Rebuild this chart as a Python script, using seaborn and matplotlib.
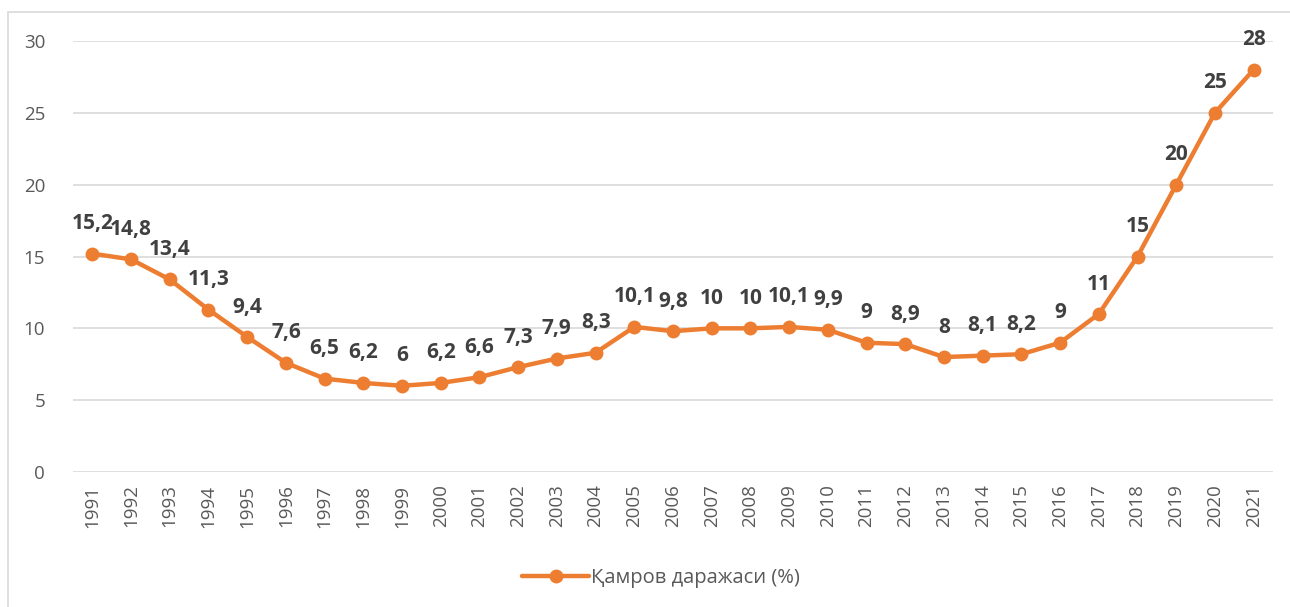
import pandas as pd
import matplotlib.pyplot as plt
import seaborn as sns
from matplotlib.patches import Rectangle

years = [str(y) for y in range(1991, 2022)]
values = [15.2, 14.8, 13.4, 11.3, 9.4, 7.6, 6.5, 6.2, 6, 6.2, 6.6, 7.3, 7.9, 8.3,
          10.1, 9.8, 10, 10, 10.1, 9.9, 9, 8.9, 8, 8.1, 8.2, 9, 11, 15, 20, 25, 28]
series_name = "Қамров даражаси (%)"

df = pd.DataFrame({"year": years, "value": values})

sns.set_style("white")
plt.rcParams["font.family"] = ["Open Sans", "DejaVu Sans"]

fig = plt.figure(figsize=(12.9, 6.07), dpi=100)
ax = fig.add_axes([73 / 1290, 1 - 472 / 607, 1200 / 1290, 431 / 607])

sns.lineplot(data=df, x="year", y="value", ax=ax, color="#ED7D31", linewidth=3.2,
             marker="o", markersize=10, markeredgewidth=0, label=series_name,
             sort=False)

# data labels above each point
for i, v in enumerate(values):
    txt = f"{v:g}".replace(".", ",")
    ax.annotate(txt, (i, v), xytext=(0, 14), textcoords="offset points",
                ha="center", va="bottom", fontsize=15, fontweight="bold",
                color="#404040", annotation_clip=False)

ax.set_xlim(-0.5, len(years) - 0.5)
ax.set_ylim(0, 30)
ax.set_yticks([0, 5, 10, 15, 20, 25, 30])
ax.grid(axis="y", color="#d9d9d9", linewidth=1.2)
ax.set_axisbelow(True)
for s in ax.spines.values():
    s.set_visible(False)
ax.tick_params(axis="both", length=0, colors="#595959", labelsize=13.5)
ax.tick_params(axis="y", pad=20)
ax.tick_params(axis="x", pad=9)
plt.setp(ax.get_xticklabels(), rotation=90)
ax.set_xlabel("")
ax.set_ylabel("")

leg = ax.legend(loc="center", bbox_to_anchor=(0.49, -0.245), frameon=False,
                fontsize=14.5, handlelength=3.3, handletextpad=0.1)
for t in leg.get_texts():
    t.set_color("#595959")

fig.patches.append(Rectangle((8 / 1290, -0.01), 1.2, 1 - 12 / 607 + 0.01,
                             transform=fig.transFigure, fill=False,
                             edgecolor="#d9d9d9", linewidth=1.2))

fig.savefig("out.png", dpi=100)
